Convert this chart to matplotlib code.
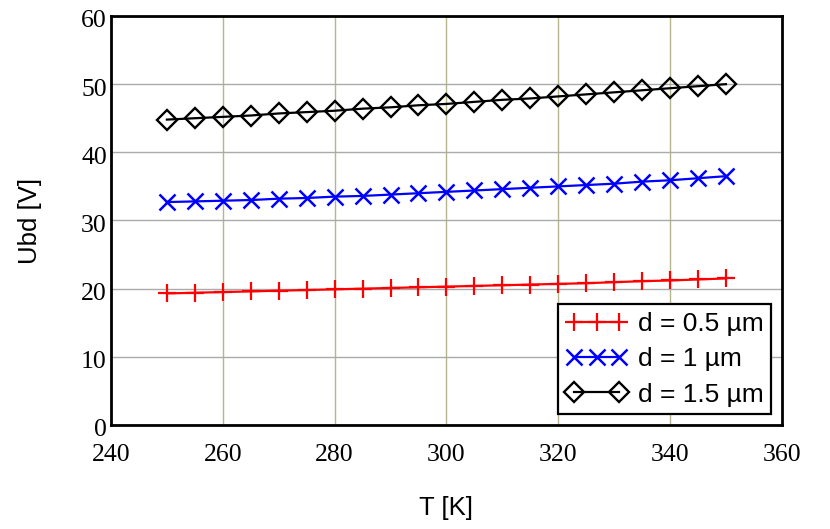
import matplotlib
matplotlib.use("Agg")
import matplotlib.pyplot as plt
from matplotlib.legend_handler import HandlerLine2D
from matplotlib.transforms import ScaledTranslation

# temperature [K]
T = [250, 255, 260, 265, 270, 275, 280, 285, 290, 295, 300,
     305, 310, 315, 320, 325, 330, 335, 340, 345, 350]

# breakdown voltage [V] for the three thicknesses
ubd_05 = [19.3, 19.4, 19.5, 19.6, 19.7, 19.8, 19.9, 20.0, 20.1, 20.2, 20.3,
          20.4, 20.5, 20.6, 20.7, 20.8, 20.95, 21.1, 21.2, 21.35, 21.5]
ubd_10 = [32.7, 32.8, 32.9, 33.0, 33.2, 33.3, 33.5, 33.6, 33.8, 34.0, 34.2,
          34.4, 34.6, 34.8, 35.0, 35.2, 35.4, 35.7, 35.9, 36.2, 36.5]
ubd_15 = [44.8, 45.0, 45.2, 45.4, 45.7, 45.9, 46.1, 46.4, 46.6, 46.9, 47.1,
          47.4, 47.7, 47.9, 48.2, 48.5, 48.8, 49.1, 49.4, 49.7, 50.0]

labels = ["d = 0.5 \u00b5m", "d = 1 \u00b5m", "d = 1.5 \u00b5m"]

x_ticks = [240, 260, 280, 300, 320, 340, 360]
y_ticks = [0, 10, 20, 30, 40, 50, 60]

fig = plt.figure(figsize=(8.3, 5.29), dpi=100)
ax = fig.add_axes([0.1337, 0.1966, 0.8083, 0.7732])

l1, = ax.plot(T, ubd_05, color="red", lw=1.6, marker="+", ms=13, mew=1.6, label=labels[0])
l2, = ax.plot(T, ubd_10, color="blue", lw=1.6, marker="x", ms=11, mew=1.8, label=labels[1])
l3, = ax.plot(T, ubd_15, color="black", lw=1.6, marker="D", ms=10, mew=1.7,
              mfc="none", label=labels[2])

ax.set_xlim(240, 360)
ax.set_ylim(0, 60)
ax.set_xticks(x_ticks)
ax.set_yticks(y_ticks)

# vertical grid olive, horizontal grey
ax.xaxis.grid(True, color="#b5b58e", lw=1.0)
ax.yaxis.grid(True, color="#aaaaaa", lw=1.0)
ax.set_axisbelow(True)

ax.tick_params(length=0, labelsize=18.5)
ax.tick_params(axis="x", pad=14)
ax.tick_params(axis="y", pad=3)
for lbl in ax.get_xticklabels() + ax.get_yticklabels():
    lbl.set_fontfamily("Liberation Serif")
# y labels sit a little below their gridline in the original
shift = ScaledTranslation(0, -3 / 100, fig.dpi_scale_trans)
for lbl in ax.get_yticklabels():
    lbl.set_transform(lbl.get_transform() + shift)

for sp in ax.spines.values():
    sp.set_linewidth(2.0)
    sp.set_color("black")

ax.set_xlabel("T [K]", fontsize=18.5, family="Liberation Sans", labelpad=21)
ax.set_ylabel("Ubd [V]", fontsize=18.5, family="Liberation Sans", labelpad=28)

leg = ax.legend(
    handles=[l1, l2, l3],
    loc="lower right",
    handler_map={l1: HandlerLine2D(numpoints=3), l2: HandlerLine2D(numpoints=3),
                 l3: HandlerLine2D(numpoints=2)},
    prop={"family": "Liberation Sans", "size": 19},
    fancybox=False, framealpha=1, edgecolor="black",
    handlelength=2.3, handletextpad=0.4, labelspacing=0.42,
    borderpad=0.3, borderaxespad=0.4,
)
leg.get_frame().set_linewidth(1.6)

fig.savefig("out.png", dpi=100)
